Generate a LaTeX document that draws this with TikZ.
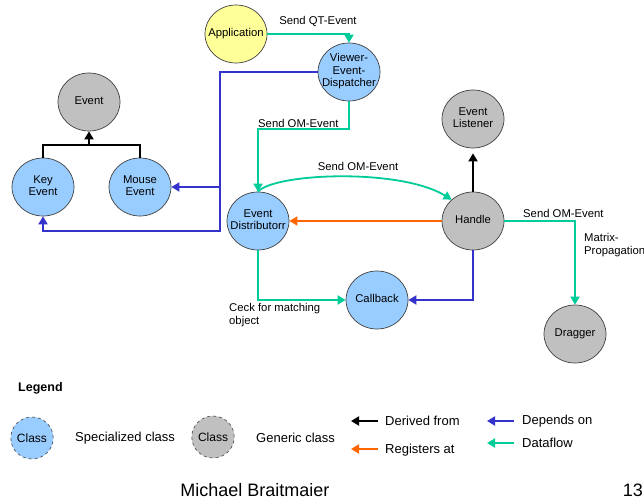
\documentclass[tikz,border=0pt]{standalone}
\usepackage{fontspec}
\setmainfont{Liberation Sans}
\usetikzlibrary{shapes.geometric,arrows.meta}

\definecolor{clsblue}{HTML}{99CCFF}
\definecolor{clsgray}{HTML}{C0C0C0}
\definecolor{appyellow}{HTML}{FFFF99}
\definecolor{flowgreen}{HTML}{00CC99}
\definecolor{depblue}{HTML}{3333CC}
\definecolor{regorange}{HTML}{FF6600}

% class names may run over the ellipse edge without widening it
\newcommand{\cltext}[1]{\makebox[0pt]{\begin{tabular}{@{}c@{}}#1\end{tabular}}}

\begin{document}
\begin{tikzpicture}[x=1pt,y=-1pt,
  cls/.style={ellipse, draw=black!75, line width=0.7pt, minimum width=62pt,
    minimum height=58pt, inner sep=0pt, align=center,
    font=\fontsize{11.3}{12.5}\selectfont},
  spec/.style={cls, fill=clsblue},
  gen/.style={cls, fill=clsgray},
  app/.style={cls, fill=appyellow},
  legcls/.style={ellipse, draw=black!75, dashed, line width=0.6pt,
    minimum width=40pt, minimum height=42pt, inner sep=0pt,
    font=\fontsize{12}{14}\selectfont},
  tip/.style={-{Triangle[length=8pt,width=9pt]}},
  derived/.style={tip, draw=black, line width=1.8pt},
  depends/.style={tip, draw=depblue, line width=1.8pt},
  registers/.style={tip, draw=regorange, line width=1.8pt},
  dataflow/.style={tip, draw=flowgreen, line width=1.8pt},
  lbl/.style={inner sep=0pt, font=\fontsize{11.3}{13}\selectfont, align=left},
  leglbl/.style={inner sep=0pt, anchor=west, font=\fontsize{13}{15}\selectfont}
]
% canvas
\fill[white] (0,0) rectangle (644,502);
\useasboundingbox (0,0) rectangle (644,502);

% class nodes
\node[app]  (app)      at (236,34)  {\cltext{Application}};
\node[spec] (viewer)   at (349,72)  {\cltext{Viewer-\\Event-\\Dispatcher}};
\node[gen]  (event)    at (89,102)  {\cltext{Event}};
\node[spec] (key)      at (43,187)  {\cltext{Key\\Event}};
\node[spec] (mouse)    at (140,187) {\cltext{Mouse\\Event}};
\node[spec] (ed)       at (258,221) {\cltext{Event\\Distributorr}};
\node[gen]  (handle)   at (473,221) {\cltext{Handle}};
\node[gen]  (listener) at (473,119) {\cltext{Event\\Listener}};
\node[spec] (callback) at (377,300) {\cltext{Callback}};
\node[gen]  (dragger)  at (575,334) {\cltext{Dragger}};

% junction points
\coordinate (inh) at (89,145);
\coordinate (bj)  at (220,187);

% inheritance
\draw[black, line width=1.8pt] (key.north) |- (inh) -| (mouse.north);
\draw[derived] (inh) -- (event.south);
\draw[derived, shorten >=5pt] (handle.north) -- (listener.south);

% dependencies
\draw[depends] (viewer.west) -| (220,231) -| (key.south);
\draw[depends] (bj) -- (mouse.east);
\draw[depends] (handle.south) |- (callback.east);

% registration
\draw[registers] (handle.west) -- (ed.east);

% data flow
\draw[dataflow] (app.east) -| (viewer.north);
\draw[dataflow] (viewer.south) -- ++(0,28) -| (ed.north);
\draw[dataflow] (ed.north) .. controls (275,173) and (400,168) .. (handle.135);
\draw[dataflow] (handle.east) -| (dragger.north);
\draw[dataflow] (ed.south) |- (callback.west);

% connector labels
\node[lbl] (l1) at (318,21) {Send QT-Event};
\node[lbl, anchor=west] (l2) at (258,123) {Send OM-Event};
\node[lbl] (l3) at (358,166) {Send OM-Event};
\node[lbl, anchor=west] (l4) at (523,213) {Send OM-Event};
\node[lbl, anchor=north west] (l5) at (584,233) {Matrix-\\Propagation};
\node[lbl, anchor=north west] (l6) at (229,303) {Ceck for matching\\object};

% legend
\node[inner sep=0pt, anchor=west, font=\bfseries\fontsize{12.5}{15}\selectfont] (legend) at (18,388) {Legend};
\node[legcls, fill=clsblue] (lspec) at (32,438) {Class};
\node[leglbl] (tspec) at (75,438) {Specialized class};
\node[legcls, fill=clsgray] (lgen) at (213,437) {Class};
\node[leglbl] (tgen) at (256,438) {Generic class};

\coordinate (a1s) at (378,421); \coordinate (a1e) at (351,421);
\coordinate (a2s) at (378,449); \coordinate (a2e) at (351,449);
\coordinate (a3s) at (514,421); \coordinate (a3e) at (487,421);
\coordinate (a4s) at (514,443); \coordinate (a4e) at (487,443);
\draw[derived]   (a1s) -- (a1e);
\draw[registers] (a2s) -- (a2e);
\draw[depends]   (a3s) -- (a3e);
\draw[dataflow]  (a4s) -- (a4e);
\node[leglbl] (t1) at (385,421) {Derived from};
\node[leglbl] (t2) at (385,450) {Registers at};
\node[leglbl] (t3) at (522,421) {Depends on};
\node[leglbl] (t4) at (522,443) {Dataflow};

% footer
\node[inner sep=0pt, font=\fontsize{18}{20}\selectfont] (author) at (255,490) {Michael Braitmaier};
\node[inner sep=0pt, anchor=east, font=\fontsize{18}{20}\selectfont] (page) at (643,490) {13};
\end{tikzpicture}
\end{document}
